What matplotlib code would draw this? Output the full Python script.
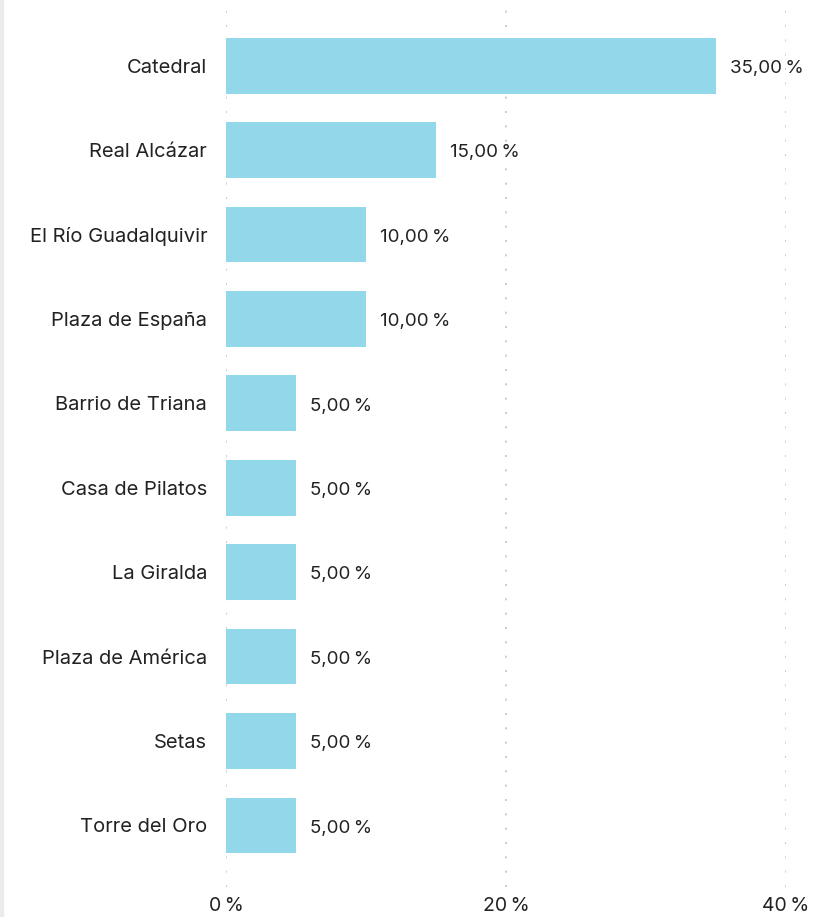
import matplotlib.pyplot as plt
from matplotlib.patches import Rectangle

lugares = ['Catedral', 'Real Alcázar', 'El Río Guadalquivir', 'Plaza de España',
           'Barrio de Triana', 'Casa de Pilatos', 'La Giralda', 'Plaza de América',
           'Setas', 'Torre del Oro']
porcentajes = [35, 15, 10, 10, 5, 5, 5, 5, 5, 5]
ticks_x = [0, 20, 40]

plt.rcParams['font.family'] = ['Inter', 'DejaVu Sans']

fig = plt.figure(figsize=(8.32, 9.17), dpi=100)
W, H = 832, 917
ax = fig.add_axes([226 / W, 1 - 887 / H, (786 - 226) / W, (887 - 10) / H])

pos = list(range(len(lugares)))
ax.barh(pos, porcentajes, height=0.66, color='#93d8ea', zorder=2)
for p, v in zip(pos, porcentajes):
    ax.annotate(f'{v:.2f}\u2009%'.replace('.', ','), (v, p), xytext=(10, -2),
                textcoords='offset points', va='center', ha='left',
                fontsize=13.5, color='#222222')

ax.set_xlim(0, 40)
ax.set_ylim(9.73, -0.66)
ax.set_yticks(pos)
ax.set_yticklabels(lugares, fontsize=14.5, color='#222222')
ax.set_xticks(ticks_x)
ax.set_xticklabels([f'{t}\u2009%' for t in ticks_x], fontsize=14, color='#222222')
ax.tick_params(length=0)
ax.tick_params(axis='y', pad=13.5)
ax.tick_params(axis='x', pad=7)
for s in ax.spines.values():
    s.set_visible(False)
ax.grid(axis='x', color='#c4c4c4', linestyle=(0, (1.2, 7.4)), linewidth=1.2, zorder=1)

# franja gris a la izquierda
fig.patches.append(Rectangle((0, 0), 3 / W, 1, transform=fig.transFigure,
                             color='#ebebeb', zorder=0))

fig.savefig('out.png', dpi=100)
